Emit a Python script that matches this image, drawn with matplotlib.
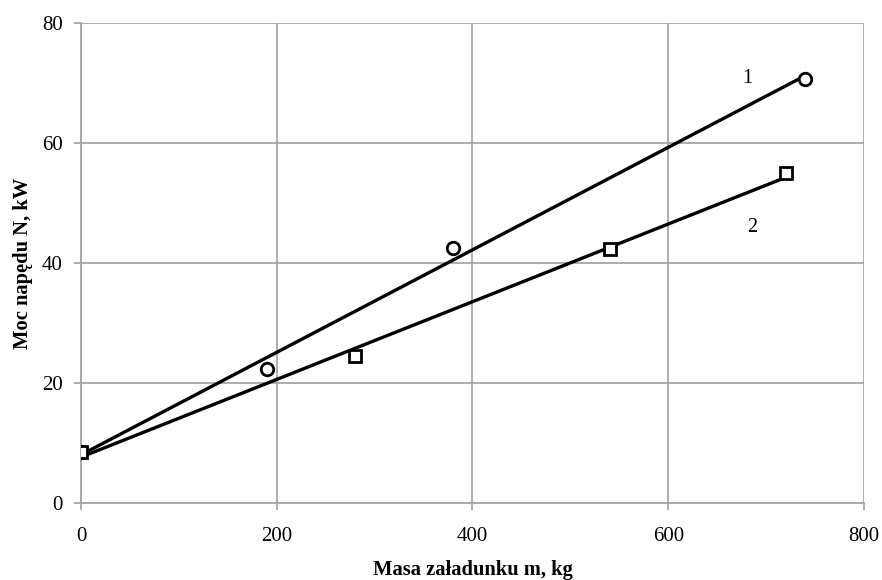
import numpy as np
import matplotlib
matplotlib.use("Agg")
import matplotlib.pyplot as plt

plt.rcParams['font.family'] = ['Liberation Serif', 'DejaVu Serif']

# measured points, series 1 (circles) and 2 (squares)
m1 = [0, 190, 380, 740]
n1 = [8.5, 22.3, 42.5, 70.7]
m2 = [0, 280, 540, 720]
n2 = [8.5, 24.5, 42.3, 55.0]

xticks = [0, 200, 400, 600, 800]
yticks = [0, 20, 40, 60, 80]

fig = plt.figure(figsize=(8.82, 5.8), dpi=100)
ax = fig.add_axes([0.0918, 0.1328, 0.8878, 0.8275])

gray = '#a6a6a6'

# linear trend lines through each series
for mx, ny in [(m1, n1), (m2, n2)]:
    k, b = np.polyfit(mx, ny, 1)
    xs = np.array([min(mx), max(mx)])
    ax.plot(xs, k*xs + b, color='black', lw=2.4, zorder=3)

ax.plot(m1, n1, 'o', ms=9, mfc='white', mec='black', mew=2, zorder=4)
ax.plot(m2, n2, 's', ms=9, mfc='white', mec='black', mew=2, zorder=4)

ax.text(681, 70.8, '1', fontsize=14.5, ha='center', va='center')
ax.text(686, 46, '2', fontsize=14.5, ha='center', va='center')

ax.set_xlim(0, 800)
ax.set_ylim(0, 80)
ax.set_xticks(xticks)
ax.set_yticks(yticks)
ax.grid(True, color=gray, lw=1.3)
ax.set_axisbelow(True)
for s in ['top', 'right']:
    ax.spines[s].set_visible(False)
for s in ['left', 'bottom']:
    ax.spines[s].set_color(gray)
    ax.spines[s].set_linewidth(1.3)
ax.tick_params(direction='out', length=5, width=1.3, color=gray, labelsize=15)
ax.tick_params(axis='x', pad=12)
ax.tick_params(axis='y', pad=8)

ax.set_xlabel('Masa załadunku m, kg', fontsize=14.8, fontweight='bold', va='center')
ax.set_ylabel('Moc napędu N, kW', fontsize=14.8, fontweight='bold', va='center')
ax.xaxis.set_label_coords(0.5, -(570 - 503) / 480)
ax.yaxis.set_label_coords(-(81 - 23) / 783, 0.5)

fig.savefig('out.png', dpi=100)
